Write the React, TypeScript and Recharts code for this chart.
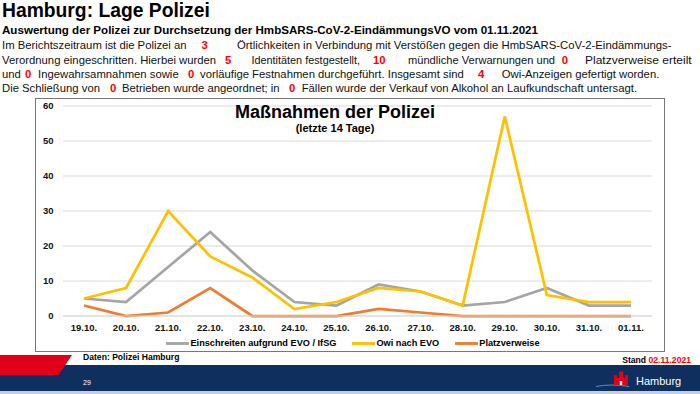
import { LineChart, Line, XAxis, YAxis, CartesianGrid, Legend } from "recharts"

const days = ["19.10.", "20.10.", "21.10.", "22.10.", "23.10.", "24.10.", "25.10.", "26.10.", "27.10.", "28.10.", "29.10.", "30.10.", "31.10.", "01.11."]
const einschreiten = [5, 4, 14, 24, 13, 4, 3, 9, 7, 3, 4, 8, 3, 3]
const owi = [5, 8, 30, 17, 11, 2, 4, 8, 7, 3, 57, 6, 4, 4]
const platzverweise = [3, 0, 1, 8, 0, 0, 0, 2, 1, 0, 0, 0, 0, 0]
const yTicks = [0, 10, 20, 30, 40, 50, 60]

const seriesNames = ["Einschreiten aufgrund EVO / IfSG", "Owi nach EVO", "Platzverweise"]

const data = days.map((day, i) => ({
  day,
  einschreiten: einschreiten[i],
  owi: owi[i],
  platz: platzverweise[i],
}))

const FONT = "'Liberation Sans', Arial, sans-serif"
const RED = "#FF0000"

function Num({ x, children }: { x: number; children: string }) {
  return (
    <tspan x={x} fill={RED} fontWeight="bold">
      {children}
    </tspan>
  )
}

function Header() {
  const body = { fontSize: 11.3, fill: "#111" }
  return (
    <svg width={700} height={394} style={{ position: "absolute", left: 0, top: 0 }} fontFamily={FONT}>
      <text x={2} y={17.3} fontSize={19.3} fontWeight="bold" fill="#000">
        Hamburg: Lage Polizei
      </text>
      <text x={2} y={34.3} fontSize={11.2} fontWeight="bold" fill="#000" textLength={536} lengthAdjust="spacingAndGlyphs">
        Auswertung der Polizei zur Durchsetzung der HmbSARS-CoV-2-EindämmungsVO vom 01.11.2021
      </text>
      <text y={49.3} {...body}>
        <tspan x={2}>Im Berichtszeitraum ist die Polizei an</tspan>
        <Num x={201.5}>3</Num>
        <tspan x={237} textLength={434.5} lengthAdjust="spacingAndGlyphs">
          Örtlichkeiten in Verbindung mit Verstößen gegen die HmbSARS-CoV-2-Eindämmungs-
        </tspan>
      </text>
      <text y={63.8} {...body}>
        <tspan x={2}>Verordnung eingeschritten. Hierbei wurden</tspan>
        <Num x={225}>5</Num>
        <tspan x={251.5} textLength={108.5} lengthAdjust="spacingAndGlyphs">
          Identitäten festgestellt,
        </tspan>
        <Num x={373}>10</Num>
        <tspan x={408} textLength={147} lengthAdjust="spacingAndGlyphs">
          mündliche Verwarnungen und
        </tspan>
        <Num x={561.7}>0</Num>
        <tspan x={585} textLength={106.7} lengthAdjust="spacingAndGlyphs">
          Platzverweise erteilt
        </tspan>
      </text>
      <text y={78.3} {...body}>
        <tspan x={2}>und</tspan>
        <Num x={25}>0</Num>
        <tspan x={38}>Ingewahrsamnahmen sowie</tspan>
        <Num x={188}>0</Num>
        <tspan x={200}>vorläufige Festnahmen durchgeführt. Insgesamt sind</tspan>
        <Num x={478}>4</Num>
        <tspan x={501.7}>Owi-Anzeigen gefertigt worden.</tspan>
      </text>
      <text y={92.3} {...body}>
        <tspan x={2}>Die Schließung von</tspan>
        <Num x={110}>0</Num>
        <tspan x={122}>Betrieben wurde angeordnet; in</tspan>
        <Num x={289}>0</Num>
        <tspan x={301.7}>Fällen wurde der Verkauf von Alkohol an Laufkundschaft untersagt.</tspan>
      </text>

      {/* footer */}
      <rect x={0} y={365} width={700} height={26} fill="#0F2F5F" />
      <rect x={0} y={391} width={700} height={3} fill="#C9CED6" />
      <polygon points="0,355 72,355 58.5,375 0,375" fill="#E10019" />
      <text x={83} y={360} fontSize={8.6} fontWeight="bold" fill="#000">
        Daten: Polizei Hamburg
      </text>
      <text x={691} y={363.3} fontSize={8.6} fontWeight="bold" textAnchor="end" fill="#000">
        Stand <tspan fill={RED}>02.11.2021</tspan>
      </text>
      <text x={83} y={385} fontSize={7} fill="#fff">
        29
      </text>
      <path d="M596 386.5 Q611 383.5 629 386.5" stroke="#4C8FD6" strokeWidth={1} fill="none" />
      <g fill="#E10019">
        <rect x={614} y={378} width={14} height={7} />
        <rect x={614} y={375} width={3} height={3} />
        <rect x={619} y={371.5} width={4} height={6.5} />
        <rect x={625} y={375} width={3} height={3} />
      </g>
      <rect x={619.8} y={381} width={2.4} height={4} fill="#fff" />
      <text x={636} y={385} fontSize={11} fill="#fff">
        Hamburg
      </text>
    </svg>
  )
}

export default function App() {
  return (
    <div
      style={{
        position: "absolute",
        left: 0,
        top: 0,
        width: 700,
        height: 394,
        background: "#fff",
        overflow: "hidden",
        fontFamily: FONT,
      }}
    >
      <style>{`.recharts-legend-item{margin-right:16px !important}.recharts-legend-item svg{margin-right:1px !important}`}</style>
      <Header />
      <div
        style={{
          position: "absolute",
          left: 35,
          top: 97.5,
          width: 630,
          height: 254,
          border: "1.5px solid #777",
          boxSizing: "border-box",
        }}
      />
      <div style={{ position: "absolute", left: 35, top: 97 }}>
        <LineChart width={630} height={254} data={data} margin={{ top: 9, right: 13, bottom: 5, left: 0 }}>
          <CartesianGrid vertical={false} stroke="#D9D9D9" strokeWidth={1} />
          <XAxis
            dataKey="day"
            padding={{ left: 21, right: 21 }}
            axisLine={{ stroke: "#D9D9D9" }}
            tickLine={false}
            height={30}
            tickMargin={2}
            interval={0}
            tick={{ fill: "#111", fontSize: 9.5, fontWeight: "bold", fontFamily: FONT }}
          />
          <YAxis
            width={28}
            domain={[0, 60]}
            ticks={yTicks}
            axisLine={false}
            tickLine={false}
            tickMargin={3.5}
            tick={{ fill: "#111", fontSize: 9.5, fontWeight: "bold", fontFamily: FONT }}
          />
          <Legend
            verticalAlign="middle"
            align="center"
            layout="horizontal"
            iconType="plainline"
            iconSize={23}
            wrapperStyle={{ top: 234.5, left: 11, width: 630, fontSize: 9.2, fontWeight: "bold", fontFamily: FONT, lineHeight: "14px" }}
            formatter={(v) => <span style={{ color: "#000" }}>{v}</span>}
          />
          <Line
            name={seriesNames[0]}
            dataKey="einschreiten"
            stroke="#A5A5A5"
            strokeWidth={2.75}
            dot={false}
            isAnimationActive={false}
          />
          <Line name={seriesNames[1]} dataKey="owi" stroke="#FFC000" strokeWidth={2.75} dot={false} isAnimationActive={false} />
          <Line
            name={seriesNames[2]}
            dataKey="platz"
            stroke="#ED7D31"
            strokeWidth={2.75}
            dot={false}
            isAnimationActive={false}
          />
        </LineChart>
      </div>
      <svg width={700} height={140} style={{ position: "absolute", left: 0, top: 0, pointerEvents: "none" }} fontFamily={FONT}>
        <text x={335} y={117.7} fontSize={18} fontWeight="bold" textAnchor="middle" fill="#000">
          Maßnahmen der Polizei
        </text>
        <text x={335} y={132.3} fontSize={11} fontWeight="bold" textAnchor="middle" fill="#000">
          (letzte 14 Tage)
        </text>
      </svg>
    </div>
  )
}
